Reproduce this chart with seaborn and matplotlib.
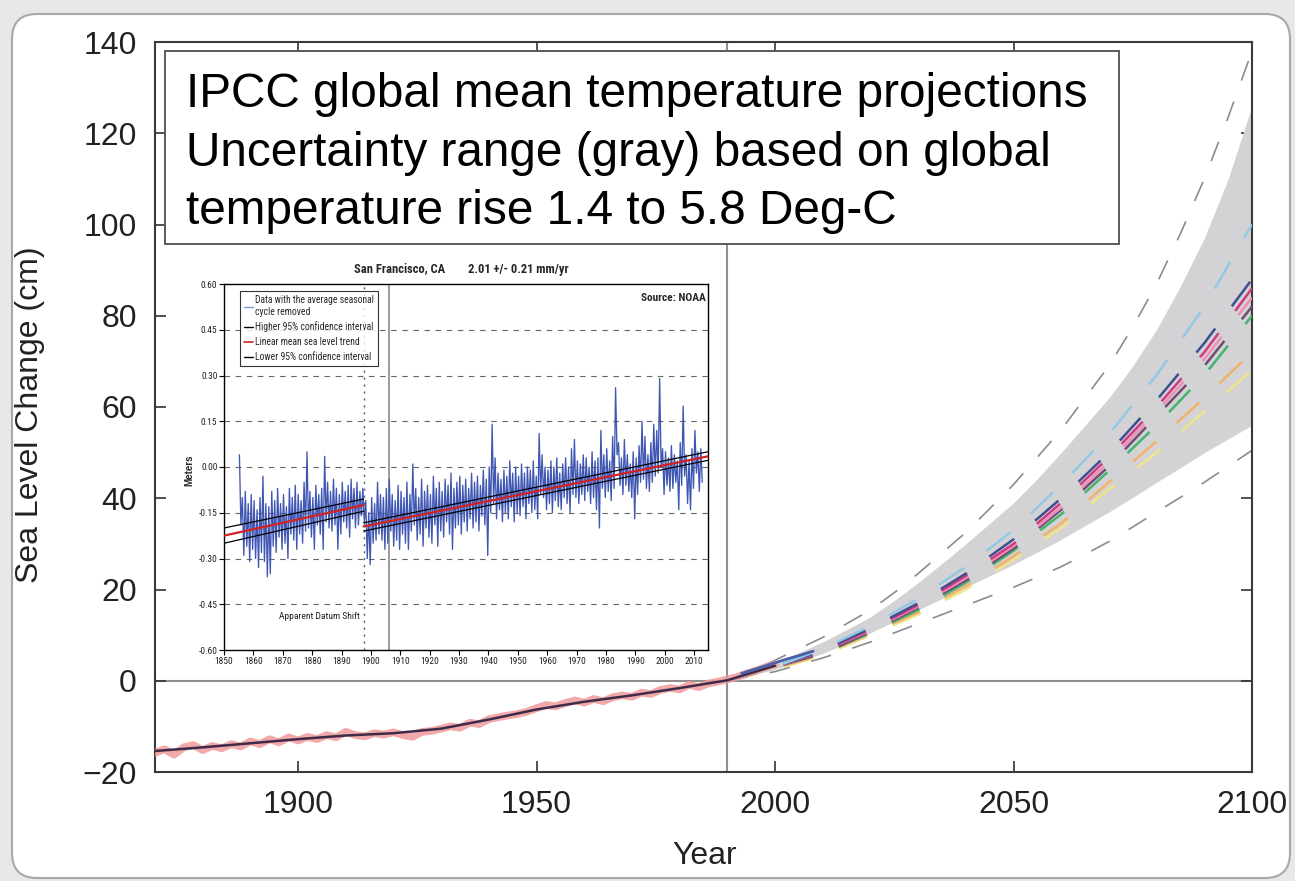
import matplotlib
matplotlib.use("Agg")
import matplotlib.pyplot as plt
import matplotlib.font_manager as fm
import seaborn as sns
from matplotlib.patches import FancyBboxPatch, Rectangle
from matplotlib.lines import Line2D

# ---------------- data ----------------
# observed (tide gauge) record, cm
obs_years = list(range(1870, 2001, 2))
obs_vals = [-15.8, -15.0, -16.2, -14.6, -14.1, -15.2, -14.3, -14.8, -13.9, -14.4,
            -13.3, -13.9, -12.8, -13.5, -12.4, -13.1, -12.3, -12.8, -11.9, -12.4,
            -11.2, -11.9, -12.2, -11.5, -11.8, -11.3, -11.9, -12.3, -11.2, -11.0,
            -10.5, -10.0, -10.3, -9.2, -9.5, -8.4, -8.0, -7.6, -7.3, -6.8,
            -6.0, -5.3, -5.6, -4.9, -4.3, -4.8, -4.0, -4.5, -3.6, -3.2,
            -3.5, -2.6, -2.9, -2.0, -1.6, -1.9, -0.9, -1.4, -0.6, -0.2,
            0.3, 0.8, 1.6, 2.2, 3.0, 3.6]
smooth_years = [1870, 1880, 1890, 1900, 1910, 1920, 1930, 1940, 1950, 1960, 1970, 1980, 1990, 2000]
smooth_vals = [-15.4, -14.6, -13.7, -12.8, -12.0, -11.5, -10.5, -8.5, -6.3, -4.6, -3.2, -1.6, 0.1, 3.3]
sat_years = [1993, 1996, 1999, 2002, 2005, 2008]
sat_vals = [1.6, 2.6, 3.6, 4.6, 5.5, 6.5]

# projection envelope, cm (5-year steps)
band_years = list(range(1990, 2101, 5))
band_upper = [0, 2, 4, 6.2, 8.5, 11.2, 14, 17.6, 21.5, 25.7, 30, 34.5, 39, 44.3,
              50, 56, 62, 69, 77, 86.5, 97, 110, 126]
band_lower = [0, 1.2, 2.5, 4.2, 6, 8.2, 10.5, 13, 15.5, 18, 20.5, 23, 25.5, 28.2,
              31, 34, 37, 40.2, 43.5, 46.7, 50, 53, 56]
outer_upper = [0, 2.2, 4.5, 7, 9.5, 12.5, 15.5, 19.3, 23.5, 28, 32.5, 37.7, 43, 49,
               55, 62, 69, 77.5, 87, 98, 110, 123.5, 138]
outer_lower = [0, 1, 2, 3.5, 5, 6.7, 8.5, 10.5, 12.5, 14.5, 16.5, 18.5, 20.5, 22.7,
               25, 27.7, 30.5, 33.7, 37, 40.2, 43.5, 47, 50.5]
# scenario curves, cm (10-year steps)
proj_years = [1990, 2000, 2010, 2020, 2030, 2040, 2050, 2060, 2070, 2080, 2090, 2100]
scen_yellow = [0, 2.5, 5.5, 10, 14.5, 20, 26.5, 33.5, 42, 50, 59, 68]
scen_orange = [0, 2.7, 5.8, 10.3, 15, 20.7, 27.3, 34.5, 43.5, 52.5, 62, 72]
scen_green = [0, 3, 6, 10.5, 15.5, 21.5, 28.5, 36.5, 46, 56, 67, 80]
scen_purple = [0, 3, 6, 10.7, 16, 22, 29, 37.5, 47, 58, 69, 82]
scen_pink = [0, 3, 6.5, 11, 16.3, 22.5, 29.5, 38, 48, 59, 70.5, 84]
scen_magenta = [0, 3, 6.5, 11.2, 16.6, 23, 30, 39, 49, 60, 72, 86]
scen_navy = [0, 3, 6.7, 11.5, 17, 23.5, 31, 40, 50, 61.5, 74, 88]
scen_sky = [0, 3, 7, 12, 18, 25, 33, 43, 54, 67, 82, 100]

main_xticks = [1900, 1950, 2000, 2050, 2100]
main_yticks = [-20, 0, 20, 40, 60, 80, 100, 120, 140]
main_ylabels = ["\u221220", "0", "20", "40", "60", "80", "100", "120", "140"]
box_lines = ["IPCC global mean temperature projections",
             "Uncertainty range (gray) based on global",
             "temperature rise 1.4 to 5.8 Deg-C"]

# San Francisco inset (m): yearly high / low of monthly data
sf_years = list(range(1855, 2013))
sf_hi = [0.04, -0.10, -0.08, -0.12, -0.09,
         -0.11, -0.14, -0.10, -0.03, -0.12, -0.13, -0.08, -0.11, -0.07, -0.12,
         -0.09, -0.13, -0.07, -0.10, -0.06, -0.09, -0.11, -0.05, 0.05, -0.08,
         -0.10, -0.06, -0.09, -0.07, 0.035, -0.05, -0.08, -0.04, -0.07, -0.09,
         -0.05, -0.08, -0.06, -0.04, -0.07, -0.05, -0.08, -0.07, -0.11, -0.15,
         -0.10, -0.12, -0.05, -0.09, -0.10, -0.07, -0.04, -0.09, -0.11, -0.06,
         -0.08, -0.10, -0.05, -0.09, 0.01, -0.07, -0.10, -0.04, -0.08, -0.06,
         -0.09, -0.03, -0.07, -0.05, -0.08, -0.04, -0.06, -0.02, -0.07, -0.05,
         -0.03, -0.06, -0.04, -0.07, -0.02, -0.05, -0.03, -0.06, -0.01, -0.04,
         0.00, 0.14, 0.03, -0.02, -0.04, -0.01, -0.03, 0.02, -0.02, 0.00,
         -0.03, 0.01, -0.02, 0.00, -0.01, 0.02, -0.03, 0.11, 0.04, 0.00,
         -0.01, 0.02, 0.00, 0.03, -0.02, 0.01, 0.03, 0.00, 0.06, 0.09,
         0.02, 0.01, 0.04, 0.03, 0.00, 0.05, 0.02, 0.03, 0.12, 0.04,
         0.06, 0.02, 0.10, 0.26, 0.08, 0.03, 0.09, 0.04, 0.01, 0.05,
         0.03, 0.07, 0.15, 0.10, 0.04, 0.08, 0.14, 0.12, 0.29, 0.06,
         0.05, 0.03, 0.07, 0.04, 0.02, 0.08, 0.20, 0.04, 0.02, 0.06,
         0.12, 0.05, 0.06]
sf_lo = [-0.19, -0.29, -0.26, -0.31, -0.27,
         -0.30, -0.33, -0.28, -0.31, -0.36, -0.35, -0.26, -0.28, -0.23, -0.27,
         -0.25, -0.30, -0.22, -0.24, -0.27, -0.22, -0.25, -0.21, -0.20, -0.23,
         -0.27, -0.19, -0.22, -0.27, -0.18, -0.20, -0.21, -0.19, -0.27, -0.22,
         -0.18, -0.20, -0.23, -0.17, -0.20, -0.19, -0.16, -0.18, -0.30, -0.32,
         -0.25, -0.24, -0.22, -0.24, -0.27, -0.25, -0.21, -0.26, -0.24, -0.27,
         -0.22, -0.25, -0.27, -0.21, -0.19, -0.24, -0.22, -0.26, -0.20, -0.23,
         -0.25, -0.19, -0.26, -0.21, -0.23, -0.18, -0.22, -0.27, -0.20, -0.19,
         -0.22, -0.18, -0.21, -0.17, -0.20, -0.18, -0.21, -0.16, -0.19, -0.29,
         -0.15, -0.12, -0.17, -0.14, -0.18, -0.15, -0.17, -0.13, -0.18, -0.15,
         -0.16, -0.13, -0.17, -0.12, -0.15, -0.14, -0.17, -0.09, -0.10, -0.14,
         -0.12, -0.15, -0.11, -0.13, -0.14, -0.10, -0.12, -0.15, -0.09, -0.10,
         -0.12, -0.09, -0.11, -0.08, -0.12, -0.10, -0.14, -0.20, -0.07, -0.10,
         -0.08, -0.11, -0.07, 0.04, -0.06, -0.09, -0.06, -0.08, -0.10, -0.17,
         -0.09, -0.05, -0.04, -0.07, -0.08, -0.05, -0.03, -0.02, 0.00, -0.09,
         -0.06, -0.08, -0.07, -0.05, -0.14, -0.06, -0.03, -0.12, -0.14, -0.07,
         -0.02, -0.08, -0.05]
trend1_years = [1850, 1897.5]
trend1_mid = [-0.225, -0.125]
trend1_hi = [-0.200, -0.105]
trend1_lo = [-0.250, -0.145]
trend2_years = [1897.5, 2014.7]
trend2_mid = [-0.195, 0.035]
trend2_hi = [-0.183, 0.050]
trend2_lo = [-0.210, 0.022]
inset_xticks = list(range(1850, 2011, 10))
inset_yticks = [-0.60, -0.45, -0.30, -0.15, 0.00, 0.15, 0.30, 0.45, 0.60]
inset_ylabels = ["-0.60", "-0.45", "-0.30", "-0.15", "0.00", "0.15", "0.30", "0.45", "0.60"]
legend_labels = ["Data with the average seasonal\ncycle removed",
                 "Higher 95% confidence interval",
                 "Linear mean sea level trend",
                 "Lower 95% confidence interval"]

# ---------------- style ----------------
sns.set_theme(style="white")
plt.rcParams["font.family"] = ["Liberation Sans", "DejaVu Sans"]
plt.rcParams["lines.scale_dashes"] = False

# pick a condensed font for the NOAA inset
NARROW_FAM, NARROW_STRETCH = "DejaVu Sans", "normal"
_entries = fm.fontManager.ttflist
_names = {f.name for f in _entries}
for cand in ["Liberation Sans Narrow", "Arial Narrow", "Roboto Condensed",
             "Open Sans Condensed", "DejaVu Sans Condensed"]:
    if cand in _names:
        NARROW_FAM, NARROW_STRETCH = cand, "normal"
        break
else:
    for fam in ["Roboto", "Open Sans", "Noto Sans", "DejaVu Sans", "Liberation Sans"]:
        hits = [f for f in _entries if f.name == fam and
                (str(f.stretch) in ("condensed", "semi-condensed", "extra-condensed") or
                 (isinstance(f.stretch, (int, float)) and f.stretch < 500))]
        if hits:
            NARROW_FAM, NARROW_STRETCH = fam, "condensed"
            break


def narrowize(t, size=None, weight=None):
    t.set_family(NARROW_FAM)
    t.set_fontstretch(NARROW_STRETCH)
    if size is not None:
        t.set_fontsize(size)
    if weight is not None:
        t.set_fontweight(weight)


W, H = 1295, 881
fig = plt.figure(figsize=(W / 100, H / 100), dpi=100)
fig.patch.set_facecolor("#e8e8e8")
panel = FancyBboxPatch((0.12, 0.03), 12.78, 8.64, boxstyle="round,pad=0,rounding_size=0.25",
                       transform=fig.dpi_scale_trans, facecolor="white",
                       edgecolor="#a8a8a8", lw=1.5, zorder=-5)
fig.patches.append(panel)

# ---------------- main axes ----------------
ax = fig.add_axes([155 / W, (H - 772) / H, (1252 - 155) / W, (772 - 42) / H])
ax.set_facecolor("white")
ax.set_xlim(1870, 2100)
ax.set_ylim(-20, 140)

ax.axhline(0, color="#8e8e8e", lw=1.5, zorder=0.5)
ax.axvline(1990, color="#8e8e8e", lw=1.5, zorder=0.5)
ax.fill_between(band_years, band_lower, band_upper, color="#d3d3d5", lw=0, zorder=1)

common = dict(ax=ax, errorbar=None, sort=False)
sns.lineplot(x=band_years, y=outer_upper, color="#8c8c8c", lw=1.2,
             linestyle=(0, (15, 16)), zorder=2, **common)
sns.lineplot(x=band_years, y=outer_lower, color="#8c8c8c", lw=1.2,
             linestyle=(0, (15, 16)), zorder=2, **common)
scen = [(scen_yellow, "#eee58a"), (scen_orange, "#f2b26a"), (scen_green, "#45b36e"),
        (scen_purple, "#6e4d72"), (scen_pink, "#f08db8"), (scen_magenta, "#d23a7e"),
        (scen_navy, "#3f4f8f"), (scen_sky, "#92c8e4")]
for vals, col in scen:
    sns.lineplot(x=proj_years, y=vals, color=col, lw=1.8,
                 linestyle=(0, (22, 20)), zorder=3, **common)

sns.lineplot(x=obs_years, y=obs_vals, color="#f09a9a", lw=5.5, alpha=0.85, zorder=4, **common)
sns.lineplot(x=smooth_years, y=smooth_vals, color="#3e2b4a", lw=1.8, zorder=5, **common)
sns.lineplot(x=sat_years, y=sat_vals, color="#4a5ea8", lw=2.0, zorder=5, **common)

ax.set_xticks(main_xticks)
ax.set_yticks(main_yticks)
ax.set_yticklabels(main_ylabels)
ax.tick_params(direction="in", length=8, width=1.2, color="#333333",
               top=True, right=True, bottom=True, left=True,
               labelsize=23, labelcolor="#222222")
ax.tick_params(axis="y", pad=13)
ax.tick_params(axis="x", pad=13)
for s in ax.spines.values():
    s.set_visible(True)
    s.set_color("#3a3a3a")
    s.set_linewidth(1.5)
ax.set_xlabel("Year", fontsize=23, color="#222222")
ax.set_ylabel("Sea Level Change (cm)", fontsize=23, color="#222222")
ax.xaxis.set_label_coords(0.501, -0.094)
ax.yaxis.set_label_coords(-0.100, 0.49)

# text box
fig.patches.append(Rectangle((165 / W, (H - 244) / H), (1119 - 165) / W, (244 - 51) / H,
                             transform=fig.transFigure, facecolor="white",
                             edgecolor="#5a5a5a", lw=1.4, zorder=1))
for i, line in enumerate(box_lines):
    fig.text(186 / W, (H - 107 - 58.5 * i) / H, line, fontsize=34.4, color="black",
             va="baseline", ha="left", zorder=2)

# ---------------- inset ----------------
axi = fig.add_axes([224 / W, (H - 650) / H, (708 - 224) / W, (650 - 284) / H])
axi.set_facecolor("white")
axi.set_xlim(1850, 2014.7)
axi.set_ylim(-0.6, 0.6)
for v in inset_yticks[1:-1]:
    axi.axhline(v, color="#666666", lw=0.8, ls=(0, (4, 4)), zorder=0.5)
axi.axvline(1906, color="#8a8a8a", lw=1.2, zorder=0.6)
axi.axvline(1897.5, color="#555555", lw=1.0, ls=(0, (1.5, 3.5)), zorder=0.6)

sf_x, sf_y = [], []
for yr, h, l in zip(sf_years, sf_hi, sf_lo):
    sf_x += [yr + 0.25, yr + 0.75]
    sf_y += [h, l]
sns.lineplot(x=sf_x, y=sf_y, ax=axi, color="#3f57b3", lw=0.95, errorbar=None, sort=False, zorder=2)
for xs, ys, col, lw in [(trend1_years, trend1_hi, "black", 0.9), (trend1_years, trend1_lo, "black", 0.9),
                        (trend1_years, trend1_mid, "#d02222", 1.6),
                        (trend2_years, trend2_hi, "black", 0.9), (trend2_years, trend2_lo, "black", 0.9),
                        (trend2_years, trend2_mid, "#d02222", 1.6)]:
    sns.lineplot(x=xs, y=ys, ax=axi, color=col, lw=lw, errorbar=None, sort=False, zorder=3)

axi.set_xticks(inset_xticks)
axi.set_yticks(inset_yticks)
axi.set_yticklabels(inset_ylabels)
axi.tick_params(direction="out", length=3.5, width=0.8, color="black",
                bottom=True, left=True, top=False, right=False,
                labelsize=6.8, pad=1.2, labelcolor="#222222")
for t in axi.get_xticklabels() + axi.get_yticklabels():
    narrowize(t)
for s in axi.spines.values():
    s.set_visible(True)
    s.set_color("black")
    s.set_linewidth(1.0)
ttl = axi.set_title("San Francisco, CA        2.01 +/- 0.21 mm/yr", fontsize=9.0,
                    fontweight="bold", pad=8, x=0.49)
narrowize(ttl)
axi.set_ylabel("Meters", fontsize=7, fontweight="bold", labelpad=2)
axi.yaxis.set_label_coords(-0.062, 0.49)
t1 = axi.text(0.995, 0.962, "Source: NOAA", transform=axi.transAxes, ha="right", va="center",
              fontsize=8.2, fontweight="bold")
narrowize(t1)
t2 = axi.text(1896.3, -0.49, "Apparent Datum Shift", ha="right", va="center",
              fontsize=6.8, color="#222222")
narrowize(t2)
handles = [Line2D([], [], color="#7d96d8", lw=1.0), Line2D([], [], color="black", lw=1.0),
           Line2D([], [], color="#d02222", lw=1.2), Line2D([], [], color="black", lw=1.0)]
leg = axi.legend(handles, legend_labels, loc="upper left", bbox_to_anchor=(0.033, 0.98),
                 prop={"size": 6.9}, frameon=True, fancybox=False,
                 handlelength=1.0, handletextpad=0.15, labelspacing=0.5, borderpad=0.4,
                 borderaxespad=0)
for t in leg.get_texts():
    narrowize(t)
leg.get_frame().set_edgecolor("black")
leg.get_frame().set_linewidth(0.8)

fig.savefig("out.png", dpi=100, facecolor=fig.get_facecolor())
